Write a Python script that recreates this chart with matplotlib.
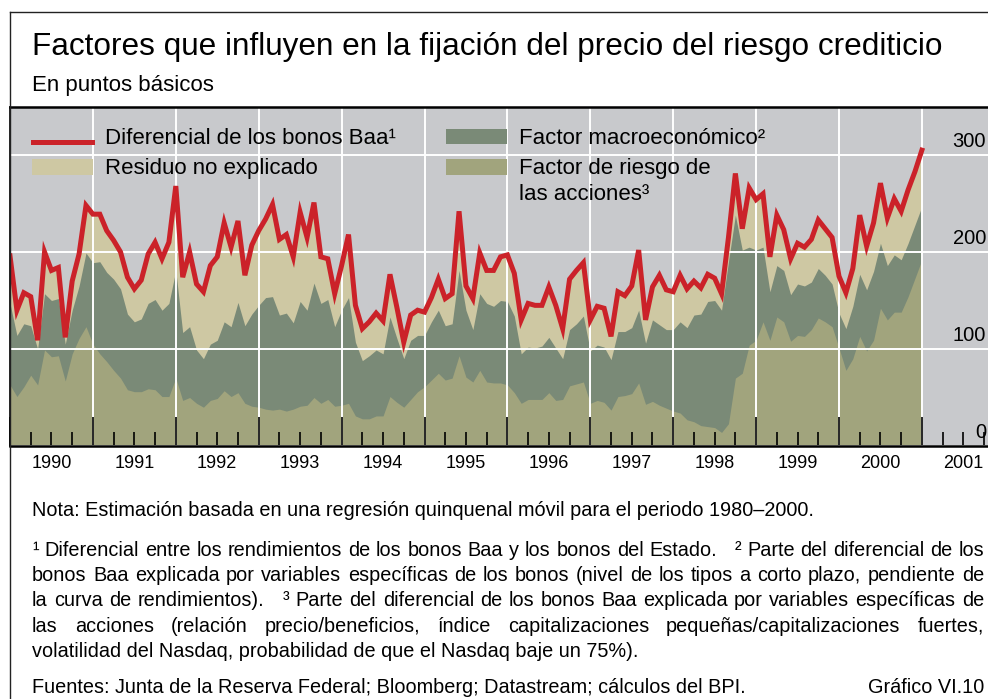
import numpy as np
import pandas as pd
import matplotlib
matplotlib.use("Agg")
import matplotlib.pyplot as plt
from matplotlib.lines import Line2D
from matplotlib.patches import Rectangle
from matplotlib.transforms import offset_copy, blended_transform_factory

plt.rcParams['font.family'] = ['Liberation Sans', 'DejaVu Sans']

# ---------------- data (basis points, monthly Jan 1990 - Jan 2001) ----------------
dates = pd.date_range('1990-01-01', periods=133, freq='MS')

baa_spread = [196,140,158,154,109,200,181,184,112,170,198,248,
              239,239,222,212,200,174,162,171,198,210,193,210,
              268,174,200,167,159,186,195,230,205,232,176,207,
              222,234,249,213,218,195,241,215,251,195,193,157,
              186,218,145,121,128,137,129,177,143,107,135,140,
              138,153,172,152,157,242,165,152,199,181,181,195,
              197,178,130,147,145,145,164,145,121,172,181,189,
              130,144,142,113,159,155,165,202,130,164,176,161,
              159,176,162,170,163,177,173,157,215,281,224,266,
              254,260,195,238,223,193,209,205,213,233,224,215,
              175,158,183,238,206,230,271,235,255,242,264,283,
              305]

# level of equity factor + macro factor (top of the dark-green area)
equity_plus_macro = [147,114,126,124,100,157,150,152,105,140,165,199,
                     189,190,179,172,162,136,128,131,147,151,140,147,
                     181,117,123,99,90,105,109,128,123,148,124,136,
                     145,153,154,135,137,127,149,140,168,147,151,123,
                     140,153,107,88,93,99,95,133,111,90,109,114,
                     114,128,140,124,126,181,140,120,157,147,144,150,
                     149,134,95,102,101,103,112,101,90,120,126,134,
                     98,104,102,89,118,118,122,140,106,130,125,120,
                     120,128,122,135,136,149,150,140,190,238,202,205,
                     202,205,159,186,181,156,167,165,169,183,176,167,
                     137,121,144,177,161,180,209,186,197,192,209,228,
                     247]

equity_factor = [63,51,61,73,63,99,92,93,67,95,111,123,
                 105,95,87,78,70,58,56,56,59,58,51,51,
                 70,47,50,44,40,47,49,57,51,55,44,41,
                 40,38,37,38,36,38,41,42,50,44,48,41,
                 42,44,31,28,28,31,31,51,45,40,48,56,
                 61,68,75,68,70,93,71,66,78,66,65,65,
                 63,55,44,48,48,48,55,47,48,62,64,66,
                 44,47,45,37,51,52,54,65,43,46,42,39,
                 36,34,27,25,21,20,19,14,23,70,75,104,
                 109,128,109,133,128,108,114,113,120,132,128,123,
                 101,78,90,113,98,109,142,130,138,138,154,173,
                 192]

years = list(range(1990, 2002))
year_labels = [str(y) for y in years]
y_ticks = [0, 100, 200, 300]
y_labels = ['0', '100', '200', '300']

# ---------------- style ----------------
BG = '#C8C9CC'
OLIVE = '#A1A47D'
DGREEN = '#7A8A77'
BEIGE = '#CEC8A3'
RED = '#CB2229'

W, H = 988, 699
fig = plt.figure(figsize=(W / 100, H / 100), dpi=100)
fig.patch.set_facecolor('white')

def fx(px):
    return px / W

def fy(py):
    return 1 - py / H

x = dates.year + (dates.month - 1) / 12.0
spread = np.array(baa_spread, float)
fit = np.array(equity_plus_macro, float)
eq = np.array(equity_factor, float)

ax_left, ax_top, ax_bottom = 10, 107, 446
ax = fig.add_axes([fx(ax_left), fy(ax_bottom), 1 - fx(ax_left), (ax_bottom - ax_top) / H])
ax.set_facecolor(BG)
year_px = 82.9
ax.set_xlim(1990, 1990 + (W - ax_left) / year_px)
ax.set_ylim(0, (ax_bottom - ax_top) / 0.97)

ax.fill_between(x, 0, spread, color=BEIGE, lw=0, zorder=1)
ax.fill_between(x, 0, fit, color=DGREEN, lw=0, zorder=1.1)
ax.fill_between(x, 0, eq, color=OLIVE, lw=0, zorder=1.2)
ax.plot(x, spread, color=RED, lw=3.6, solid_joinstyle='miter', zorder=3)

ax.set_axisbelow('line')
ax.set_xticks(years)
ax.set_xticks([y + q / 4 for y in years for q in (1, 2, 3)], minor=True)
ax.set_yticks(y_ticks)
ax.grid(True, which='major', color='white', lw=1.4)
ax.tick_params(axis='x', which='major', direction='in', length=21, width=1.2,
               color='black', labelbottom=False)
ax.tick_params(axis='x', which='minor', direction='in', length=10, width=1.2,
               color='black')
ax.tick_params(axis='y', length=0, labelleft=False)
for s in ('top', 'bottom'):
    ax.spines[s].set_linewidth(1.8)
    ax.spines[s].set_color('black')
ax.spines['left'].set_linewidth(1.2)
ax.spines['right'].set_visible(False)

# year labels centred in each year
trans_lab = offset_copy(blended_transform_factory(ax.transData, ax.transAxes),
                        fig=fig, x=0, y=-22, units='dots')
for y, lab in zip(years, year_labels):
    ax.text(y + 0.5, 0, lab, transform=trans_lab, ha='center', va='baseline',
            fontsize=13, clip_on=False)

# y labels inside right part of plot
trans_y = offset_copy(ax.transData, fig=fig, x=0, y=8, units='dots')
xr = 1990 + (986 - ax_left) / year_px
for v, lab in zip(y_ticks, y_labels):
    ax.text(xr, v, lab, transform=trans_y, ha='right', va='baseline',
            fontsize=14.5, clip_on=False)

# ---------------- legend (manual) ----------------
LFS = 16
fig.add_artist(Line2D([fx(33), fx(92)], [fy(141.5), fy(141.5)], color=RED, lw=3.6,
                      transform=fig.transFigure))
fig.text(fx(105), fy(144), 'Diferencial de los bonos Baa\u00b9', fontsize=LFS, va='baseline')
fig.add_artist(Rectangle((fx(32), fy(175)), fx(61), 16 / H, color=BEIGE, lw=0,
                         transform=fig.transFigure))
fig.text(fx(105), fy(174), 'Residuo no explicado', fontsize=LFS, va='baseline')
fig.add_artist(Rectangle((fx(446), fy(144)), fx(61), 15 / H, color=DGREEN, lw=0,
                         transform=fig.transFigure))
fig.text(fx(519), fy(144), 'Factor macroecon\u00f3mico\u00b2', fontsize=LFS, va='baseline')
fig.add_artist(Rectangle((fx(446), fy(175)), fx(61), 16 / H, color=OLIVE, lw=0,
                         transform=fig.transFigure))
fig.text(fx(519), fy(174), 'Factor de riesgo de', fontsize=LFS, va='baseline')
fig.text(fx(519), fy(200), 'las acciones\u00b3', fontsize=LFS, va='baseline')

# ---------------- frame lines ----------------
fig.add_artist(Line2D([fx(10), fx(10)], [0, fy(12)], color='#222222', lw=1.0,
                      transform=fig.transFigure))
fig.add_artist(Line2D([fx(10), 1], [fy(12), fy(12)], color='#222222', lw=1.0,
                      transform=fig.transFigure))

# ---------------- titles ----------------
fig.text(fx(32), fy(55), 'Factores que influyen en la fijaci\u00f3n del precio del riesgo crediticio',
         fontsize=22.7, va='baseline')
fig.text(fx(32), fy(91), 'En puntos b\u00e1sicos', fontsize=16, va='baseline')

# ---------------- notes ----------------
NFS = 14.3
fig.text(fx(32), fy(516), 'Nota: Estimaci\u00f3n basada en una regresi\u00f3n quinquenal m\u00f3vil para el periodo 1980\u20132000.',
         fontsize=NFS, va='baseline')

renderer = fig.canvas.get_renderer()

def text_width(s):
    t = fig.text(0, 0, s, fontsize=NFS)
    w = t.get_window_extent(renderer).width
    t.remove()
    return w

def justified(line, y_px, x0=32, x1=984):
    natural = text_width(line)
    nsp = line.count(' ')
    extra = (x1 - x0 - natural) / nsp if nsp else 0
    words = line.split(' ')
    idx = 0
    for wd in words:
        if wd:
            prefix = line[:idx]
            px = x0 + (text_width(prefix) if prefix else 0) + prefix.count(' ') * extra
            fig.text(fx(px), fy(y_px), wd, fontsize=NFS, va='baseline')
        idx += len(wd) + 1

notes = [
    '\u00b9 Diferencial entre los rendimientos de los bonos Baa y los bonos del Estado.   \u00b2 Parte del diferencial de los',
    'bonos Baa explicada por variables espec\u00edficas de los bonos (nivel de los tipos a corto plazo, pendiente de',
    'la curva de rendimientos).   \u00b3 Parte del diferencial de los bonos Baa explicada por variables espec\u00edficas de',
    'las acciones (relaci\u00f3n precio/beneficios, \u00edndice capitalizaciones peque\u00f1as/capitalizaciones fuertes,',
]
for ln, yb in zip(notes, [556, 581, 606, 632]):
    justified(ln, yb)
fig.text(fx(32), fy(657), 'volatilidad del Nasdaq, probabilidad de que el Nasdaq baje un 75%).',
         fontsize=NFS, va='baseline')
fig.text(fx(32), fy(693), 'Fuentes: Junta de la Reserva Federal; Bloomberg; Datastream; c\u00e1lculos del BPI.',
         fontsize=NFS, va='baseline')
fig.text(fx(984), fy(693), 'Gr\u00e1fico VI.10', fontsize=NFS, va='baseline', ha='right')

fig.savefig('out.png', dpi=100, facecolor='white')
